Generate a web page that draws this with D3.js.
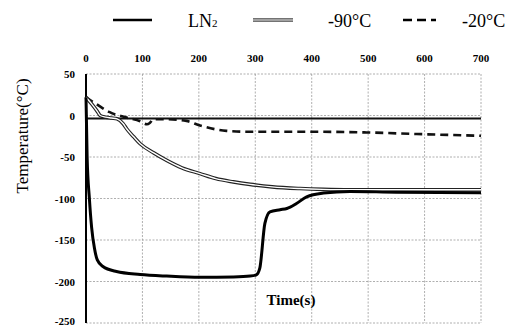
<!DOCTYPE html>
<html>
<head>
<meta charset="utf-8">
<script src="https://cdn.jsdelivr.net/npm/d3@7"></script>
<style>
  body { margin: 0; background: #fff; }
  svg text { font-family: "Liberation Serif", "DejaVu Serif", "Times New Roman", serif; }
</style>
</head>
<body>
<div id="chart"></div>
<script>
// temperature vs time, three cooling media
const xTicks = [0, 100, 200, 300, 400, 500, 600, 700];
const yTicks = [50, 0, -50, -100, -150, -200, -250];

const ln2Time = [0, 2, 6, 10, 15, 20, 30, 54, 96, 143, 202, 261, 291, 302, 308, 317, 326, 344, 356, 373, 391, 421, 468, 550, 700];
const ln2Temp = [22, -50, -100, -135, -160, -174, -182, -188, -191.5, -193.5, -195, -194.5, -193.5, -192, -184, -130, -116, -113.5, -112, -106, -98, -93.5, -91.5, -92.5, -93];

const m90Time = [0, 10, 20, 25, 35, 45, 55, 66, 72, 85, 96, 120, 143, 170, 202, 230, 261, 291, 330, 379, 420, 468, 550, 700];
const m90Temp = [22, 14, 5, 0, -2, -3, -4, -10, -16, -26, -34, -45, -54, -63, -70, -76, -80, -83, -86, -88, -89, -89.5, -89.5, -89.5];

const m20Time = [0, 20, 42, 72, 96, 108, 113, 119, 143, 178, 202, 249, 290, 408, 497, 586, 700];
const m20Temp = [22, 13, 4, -2.5, -7, -10.5, -9, -4.5, -4.5, -6.5, -12, -18.5, -19.6, -19.6, -20.4, -22.3, -24.4];

const width = 512, height = 327;
const margin = { left: 86, right: 31, top: 74, bottom: 4 };

const svg = d3.select("#chart").append("svg")
    .attr("width", width)
    .attr("height", height);

const x = d3.scaleLinear().domain([0, 700]).range([margin.left, width - margin.right]);
const y = d3.scaleLinear().domain([50, -250]).range([margin.top, height - margin.bottom]);

// dashed grid + frame
const grid = svg.append("g")
    .attr("stroke", "#9a9a9a")
    .attr("stroke-width", 0.8)
    .attr("stroke-dasharray", "2,1.5");
grid.selectAll("line.v")
    .data(xTicks.slice(1))
    .join("line")
    .attr("x1", d => x(d)).attr("x2", d => x(d))
    .attr("y1", y(50)).attr("y2", y(-250));
grid.selectAll("line.h")
    .data(yTicks)
    .join("line")
    .attr("x1", x(0)).attr("x2", x(700))
    .attr("y1", d => y(d)).attr("y2", d => y(d));

// tick labels
svg.append("g")
    .selectAll("text")
    .data(xTicks)
    .join("text")
    .attr("x", d => x(d))
    .attr("y", 62)
    .attr("text-anchor", "middle")
    .attr("font-size", 11)
    .attr("font-weight", "bold")
    .text(d => d);

svg.append("g")
    .selectAll("text")
    .data(yTicks)
    .join("text")
    .attr("x", 75)
    .attr("y", d => Math.min(y(d) + 4, 325))
    .attr("text-anchor", "end")
    .attr("font-size", 11)
    .attr("font-weight", "bold")
    .text(d => d);

// axes lines
svg.append("line")
    .attr("x1", x(0)).attr("x2", x(0))
    .attr("y1", y(50)).attr("y2", y(-250))
    .attr("stroke", "#000").attr("stroke-width", 2);
svg.append("line")
    .attr("x1", x(0)).attr("x2", x(700))
    .attr("y1", y(0) + 3).attr("y2", y(0) + 3)
    .attr("stroke", "#111").attr("stroke-width", 2);

const line = d3.line()
    .x(d => x(d[0]))
    .y(d => y(d[1]))
    .curve(d3.curveMonotoneX);

const zip = (a, b) => a.map((t, i) => [t, b[i]]);

// -20 dashed
svg.append("path")
    .attr("d", line(zip(m20Time, m20Temp)))
    .attr("fill", "none")
    .attr("stroke", "#111")
    .attr("stroke-width", 2.6)
    .attr("stroke-dasharray", "8,5");

// -90 double line
svg.append("path")
    .attr("d", line(zip(m90Time, m90Temp)))
    .attr("fill", "none")
    .attr("stroke", "#222")
    .attr("stroke-width", 3.6);
svg.append("path")
    .attr("d", line(zip(m90Time, m90Temp)))
    .attr("fill", "none")
    .attr("stroke", "#fff")
    .attr("stroke-width", 1.4);

// LN2 thick
svg.append("path")
    .attr("d", line(zip(ln2Time, ln2Temp)))
    .attr("fill", "none")
    .attr("stroke", "#000")
    .attr("stroke-width", 3)
    .attr("stroke-linejoin", "round");

// axis titles
svg.append("text")
    .attr("transform", "translate(28,136) rotate(-90)")
    .attr("text-anchor", "middle")
    .attr("font-size", 17)
    .text("Temperature(°C)");

svg.append("text")
    .attr("x", 291)
    .attr("y", 305)
    .attr("text-anchor", "middle")
    .attr("font-size", 15)
    .attr("font-weight", "bold")
    .text("Time(s)");

// legend
const lg = svg.append("g");
lg.append("line")
    .attr("x1", 113).attr("x2", 152).attr("y1", 20).attr("y2", 20)
    .attr("stroke", "#000").attr("stroke-width", 2.5);
const ln2Label = lg.append("text").attr("x", 188).attr("y", 27).attr("font-size", 18);
ln2Label.append("tspan").text("LN");
ln2Label.append("tspan").attr("font-size", 11).text("2");

lg.append("line")
    .attr("x1", 253).attr("x2", 293).attr("y1", 20).attr("y2", 20)
    .attr("stroke", "#444").attr("stroke-width", 3.6);
lg.append("line")
    .attr("x1", 253).attr("x2", 293).attr("y1", 20).attr("y2", 20)
    .attr("stroke", "#fff").attr("stroke-width", 1.2);
lg.append("text").attr("x", 328).attr("y", 27).attr("font-size", 18).text("-90°C");

lg.append("line")
    .attr("x1", 403).attr("x2", 436).attr("y1", 20).attr("y2", 20)
    .attr("stroke", "#000").attr("stroke-width", 2.6)
    .attr("stroke-dasharray", "9,5");
lg.append("text").attr("x", 462).attr("y", 27).attr("font-size", 18).text("-20°C");
</script>
</body>
</html>
